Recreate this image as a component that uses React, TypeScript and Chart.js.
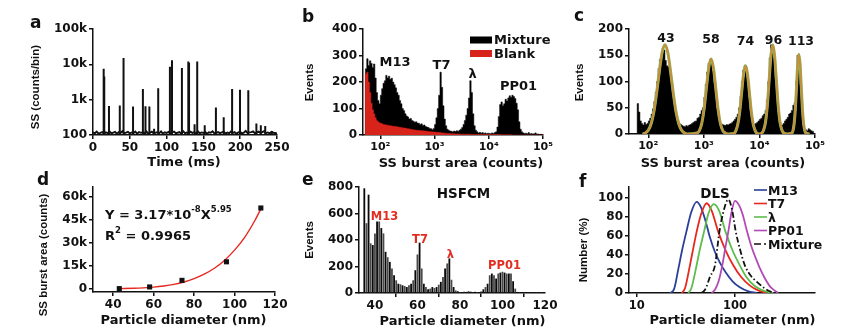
import React, { useEffect, useRef } from "react";
import { Chart, registerables } from "chart.js";

Chart.register(...registerables);

const FIG_W = 842;
const FIG_H = 332;
const INK = "#111";
const SANS = "'DejaVu Sans', 'Liberation Sans', sans-serif";
const NARROW = "'Liberation Sans', Arial, sans-serif";
const YW = 60;
const XH = 30;
Chart.defaults.font.family = SANS;

// ---------- Panel a: time trace ----------
const aBaseStepMs = 2.5;
const aBaseline = [
  118, 112, 125, 110, 115, 121, 108, 119, 113, 126,
  111, 117, 122, 109, 120, 114, 128, 112, 116, 123,
  110, 118, 113, 125, 109, 121, 115, 119, 112, 127,
  110, 117, 124, 111, 116, 120, 113, 126, 108, 119,
  114, 122, 110, 118, 125, 112, 116, 121, 109, 128,
  113, 117, 111, 124, 115, 120, 110, 126, 112, 118,
  114, 122, 109, 119, 116, 127, 111, 115, 121, 113,
  118, 124, 110, 117, 112, 125, 114, 120, 109, 118,
  123, 111, 116, 130, 113, 119, 121, 126, 112, 117,
  124, 115, 120, 128, 113, 118, 111, 122, 116, 114,
  110,
];
const aSpikeTimes = [14.5, 15.3, 21.7, 36.4, 41.5, 54.4, 67.8, 71.3, 76.6, 83.0, 88.6, 104.5, 107.3, 120.8, 129.5, 130.5, 138.0, 141.6, 151.8, 167.0, 177.6, 189.0, 199.7, 211.0, 222.0, 228.0, 234.0, 243.0];
const aSpikePeaks = [7500, 4500, 660, 680, 15000, 640, 2000, 650, 640, 150, 2100, 8500, 13000, 7900, 12000, 11000, 200, 12000, 190, 600, 320, 2000, 1900, 1850, 210, 190, 180, 130];
const aXTicks = [0, 50, 100, 150, 200, 250];
const aYTicks = [100, 1000, 10000, 100000];
const aYTickLabels = ["100", "1k", "10k", "100k"];

// ---------- Panel b: SS burst area histogram ----------
const bBinStartLog = 1.7;
const bBinStepLog = 0.025;
const bMixture = [
  0, 0, 250, 288, 262, 280, 270, 255, 268, 215,
  160, 130, 118, 150, 175, 195, 205, 225, 215, 222,
  210, 214, 200, 190, 178, 160, 150, 130, 118, 100,
  92, 80, 72, 68, 60, 62, 55, 52, 48, 50,
  45, 44, 40, 42, 36, 38, 32, 30, 28, 25,
  24, 20, 25, 40, 65, 100, 150, 237, 180, 110,
  60, 35, 22, 18, 15, 14, 12, 15, 13, 16,
  14, 18, 22, 28, 40, 55, 75, 100, 140, 205,
  160, 80, 35, 18, 12, 8, 10, 7, 9, 6,
  8, 5, 7, 6, 5, 8, 6, 9, 12, 30,
  70, 115, 125, 110, 118, 135, 128, 140, 148, 142,
  150, 145, 138, 120, 95, 50, 22, 12, 8, 6,
  7, 5, 9, 4, 6, 3, 5, 8, 3, 4,
  2, 3,
];
const bBlank = [
  0, 0, 230, 237, 200, 160, 120, 95, 80, 65,
  55, 50, 46, 44, 42, 40, 39, 38, 37, 36,
  35, 34, 33, 33, 32, 31, 30, 29, 28, 27,
  26, 26, 25, 24, 23, 22, 21, 20, 19, 18,
  18, 17, 17, 16, 16, 15, 15, 14, 13, 13,
  12, 12, 11, 11, 10, 10, 9, 9, 8, 8,
  7, 7, 6, 6, 6, 5, 5, 5, 4, 4,
  4, 4, 3, 3, 3, 3, 3, 3, 3, 3,
  2, 2, 2, 2, 2, 2, 2, 2, 2, 2,
  2, 2, 2, 2, 2, 2, 2, 2, 2, 2,
  2, 2, 1, 1, 1, 1, 1, 1, 1, 1,
  0, 0, 0, 0, 0, 0, 0, 0, 0, 0,
  0, 0, 0, 0, 0, 0, 0, 0, 0, 0,
  0, 0,
];
const logTicks = [100, 1000, 10000, 100000];
const logTickLabels = ["10²", "10³", "10⁴", "10⁵"];
const bYTicks = [0, 100, 200, 300, 400];

// ---------- Panel c: calibration beads ----------
const cBinStartLog = 1.65;
const cBinStepLog = 0.025;
const cEvents = [
  0, 0, 0, 0, 0, 0, 0, 58, 42, 25,
  20, 17, 22, 18, 20, 25, 30, 38, 48, 62,
  80, 100, 125, 142, 150, 163, 160, 140, 130, 128,
  118, 100, 82, 62, 45, 35, 25, 20, 18, 16,
  15, 14, 16, 15, 17, 18, 20, 22, 24, 25,
  30, 32, 38, 45, 50, 70, 95, 118, 135, 142,
  138, 120, 98, 75, 50, 35, 25, 20, 18, 17,
  16, 18, 17, 19, 20, 22, 25, 28, 32, 38,
  50, 72, 100, 122, 131, 128, 100, 70, 45, 28,
  20, 18, 20, 22, 25, 28, 30, 35, 38, 45,
  65, 100, 145, 170, 165, 145, 108, 70, 42, 25,
  18, 17, 20, 25, 28, 32, 38, 40, 45, 55,
  60, 100, 150, 140, 95, 45, 18, 10, 8, 6,
  10, 8, 6, 5,
];
const cFitLog = [
  1.9, 1.95, 2.0, 2.05, 2.1, 2.15, 2.2, 2.25, 2.3, 2.35, 2.4, 2.45, 2.5, 2.55, 2.6, 2.65, 2.7,
  2.875, 2.9175, 2.96, 3.0025, 3.045, 3.0875, 3.13, 3.1725, 3.215, 3.2575, 3.3, 3.3425, 3.385, 3.45,
  3.54, 3.575, 3.61, 3.645, 3.68, 3.715, 3.75, 3.785, 3.82, 3.855, 3.89, 3.925, 3.96, 4.0,
  4.045, 4.0775, 4.11, 4.1425, 4.175, 4.2075, 4.24, 4.2725, 4.305, 4.3375, 4.37, 4.4025, 4.435, 4.5,
  4.584, 4.605, 4.626, 4.647, 4.668, 4.689, 4.71, 4.731, 4.752, 4.773, 4.794, 4.815, 4.836, 4.9,
];
const cFitEvents = [
  0, 2, 7, 19, 42, 78, 120, 156, 170, 156, 120, 78, 42, 19, 7, 2, 0,
  2, 6, 19, 46, 87, 126, 143, 126, 87, 46, 19, 6, 2, 0,
  1, 6, 18, 42, 79, 115, 130, 115, 79, 42, 18, 6, 1, 0,
  2, 8, 23, 55, 103, 150, 170, 150, 103, 55, 23, 8, 2, 0,
  2, 7, 21, 49, 92, 134, 152, 134, 92, 49, 21, 7, 2, 0,
];
const cYTicks = [0, 50, 100, 150, 200];

// ---------- Panel d: power-law fit ----------
const dDiameter = [43, 58, 74, 96, 113];
const dArea = [200, 1300, 5600, 17700, 52800];
const dFitDiameter = [43, 50, 55, 60, 65, 70, 75, 80, 85, 90, 95, 100, 105, 110, 113];
const dFitArea = [170, 410, 720, 1200, 1940, 3000, 4540, 6700, 9600, 13500, 18600, 25300, 33700, 44500, 52200];
const dXTicks = [40, 60, 80, 100, 120];
const dYTicks = [0, 15000, 30000, 45000, 60000];
const dYTickLabels = ["0", "15k", "30k", "45k", "60k"];

// ---------- Panel e: HSFCM size distribution ----------
const eFirstDiameter = 35;
const eEvents = [
  790, 527, 742, 375, 362, 450, 540, 540, 490, 450,
  311, 270, 235, 185, 134, 96, 70, 66, 58, 53,
  45, 58, 70, 96, 172, 291, 380, 185, 70, 45,
  28, 33, 45, 38, 45, 63, 84, 120, 185, 223,
  261, 100, 45, 20, 13, 8, 6, 10, 8, 14,
  10, 7, 9, 8, 6, 12, 28, 45, 70, 134,
  147, 134, 109, 147, 154, 160, 154, 147, 147, 147,
  89, 33, 8, 6, 5, 6, 4, 5, 4, 5,
  4, 4, 3, 4, 3,
];
const eXTicks = [40, 60, 80, 100, 120];
const eYTicks = [0, 200, 400, 600, 800];

// ---------- Panel f: DLS ----------
const fM13D = [21.8, 24, 26.5, 29, 32, 36, 40.7, 45, 50, 55, 62, 70, 80, 95, 112, 135, 166];
const fM13N = [0, 4, 25, 45, 64, 85, 95.5, 90, 76, 60, 44, 32, 22, 12, 6, 2, 0];
const fT7D = [28.7, 31, 34.8, 37.5, 40.7, 45, 51.5, 58, 67.6, 80, 96, 115, 141, 170, 209];
const fT7N = [0, 5, 29, 46, 64, 82, 94, 86, 64, 45, 29, 17, 8, 3, 0];
const fLambdaD = [33.5, 36, 40.7, 44, 48.4, 54, 61, 69, 80.3, 95, 112, 130, 160, 200, 245];
const fLambdaN = [0, 5, 29, 46, 64, 84, 93, 86, 64, 44, 29, 17, 7, 2, 0];
const fPP01D = [58, 63, 68, 74.3, 80, 85.5, 92, 100, 110, 120, 131.5, 150, 165, 179, 200, 227, 250, 275];
const fPP01N = [0, 4, 12, 29, 48, 64, 84, 96.5, 92, 82, 66, 46, 35, 26, 16, 7, 3, 0];
const fMixD = [45.8, 50, 55.7, 62.6, 69.4, 75, 85.5, 93, 102, 113, 126, 145, 166, 200, 245];
const fMixN = [0, 4, 17, 29, 64, 82, 98, 88, 64, 45, 29, 18, 12, 5, 0];
const fXTicks = [10, 100];
const fYTicks = [0, 20, 40, 60, 80, 100];

const C_BLUE = "#2a3f98";
const C_RED = "#e6281f";
const C_GREEN = "#5dbd4c";
const C_MAGENTA = "#b24ab6";
const C_BLANK = "#d8231b";
const C_LABEL_RED = "#e32d22";

type Area = { l: number; t: number; r: number; b: number };

function baseOptions(area: Area, scales: any) {
  return {
    responsive: false,
    maintainAspectRatio: false,
    animation: false,
    events: [],
    layout: {
      padding: { left: area.l - YW, top: area.t, right: FIG_W - area.r, bottom: FIG_H - area.b - XH },
    },
    plugins: { legend: { display: false }, tooltip: { enabled: false }, title: { display: false } },
    scales,
  };
}

function axis(kind: "x" | "y", type: string, min: number, max: number, values: number[], labels: string[], size = 12) {
  return {
    type,
    min,
    max,
    position: kind === "x" ? "bottom" : "left",
    offset: false,
    afterFit: (s: any) => {
      if (kind === "x") s.height = XH;
      else s.width = YW;
    },
    afterBuildTicks: (s: any) => {
      s.ticks = values.map((v) => ({ value: v }));
    },
    grid: { display: true, drawOnChartArea: false, drawTicks: true, tickLength: 4, color: INK, lineWidth: 1.5 },
    border: { display: true, color: INK, width: 1.5 },
    ticks: {
      autoSkip: false,
      maxRotation: 0,
      minRotation: 0,
      padding: 2,
      color: INK,
      font: { family: SANS, weight: "bold", size },
      callback: (_v: any, i: number) => labels[i],
    },
  };
}

function histPoints(startLog: number, stepLog: number, counts: number[]) {
  const pts = counts.map((c, i) => ({ x: Math.pow(10, startLog + i * stepLog), y: c }));
  pts.push({ x: Math.pow(10, startLog + counts.length * stepLog), y: 0 });
  return pts;
}

function pairs(xs: number[], ys: number[]) {
  return xs.map((x, i) => ({ x, y: ys[i] }));
}

function cfgA() {
  const base = aBaseline.map((v, i) => ({ x: i * aBaseStepMs, y: v }));
  const spikes: any[] = [];
  aSpikeTimes.forEach((t, i) => {
    spikes.push({ x: t, y: 100 }, { x: t, y: aSpikePeaks[i] }, { x: t, y: null });
  });
  return {
    type: "line",
    data: {
      datasets: [
        { data: spikes, borderColor: INK, borderWidth: 2, pointRadius: 0, spanGaps: false, tension: 0 },
        { data: base, borderColor: INK, borderWidth: 1.9, pointRadius: 0, tension: 0 },
      ],
    },
    options: baseOptions({ l: 93, t: 29, r: 277, b: 135 }, {
      x: axis("x", "linear", 0, 250, aXTicks, aXTicks.map(String)),
      y: axis("y", "logarithmic", 100, 100000, aYTicks, aYTickLabels),
    }),
  };
}

function cfgB() {
  return {
    type: "line",
    data: {
      datasets: [
        { label: "Blank", data: histPoints(bBinStartLog, bBinStepLog, bBlank), stepped: "after", fill: "origin", backgroundColor: C_BLANK, borderColor: C_BLANK, borderWidth: 0.5, pointRadius: 0 },
        { label: "Mixture", data: histPoints(bBinStartLog, bBinStepLog, bMixture), stepped: "after", fill: "origin", backgroundColor: "#000", borderColor: "#000", borderWidth: 0.5, pointRadius: 0 },
      ],
    },
    options: baseOptions({ l: 363, t: 29, r: 543, b: 135 }, {
      x: axis("x", "logarithmic", 48, 100000, logTicks, logTickLabels, 11),
      y: axis("y", "linear", 0, 400, bYTicks, bYTicks.map(String)),
    }),
  };
}

function cfgC() {
  const fit = cFitLog.map((lg, i) => ({ x: Math.pow(10, lg), y: cFitEvents[i] }));
  return {
    type: "line",
    data: {
      datasets: [
        { data: fit, borderColor: "#c58f3a", borderWidth: 2.1, pointRadius: 0, cubicInterpolationMode: "monotone" },
        { data: fit, borderColor: "#86bf66", borderWidth: 3.0, pointRadius: 0, cubicInterpolationMode: "monotone" },
        { data: histPoints(cBinStartLog, cBinStepLog, cEvents), stepped: "after", fill: "origin", backgroundColor: "#000", borderColor: "#000", borderWidth: 0.5, pointRadius: 0 },
      ],
    },
    options: baseOptions({ l: 629, t: 29, r: 815, b: 134 }, {
      x: axis("x", "logarithmic", 45, 100000, logTicks, logTickLabels, 11),
      y: axis("y", "linear", 0, 200, cYTicks, cYTicks.map(String)),
    }),
  };
}

function cfgD() {
  return {
    type: "line",
    data: {
      datasets: [
        { data: pairs(dDiameter, dArea), showLine: false, pointStyle: "rect", pointRadius: 3.6, backgroundColor: INK, borderColor: INK, borderWidth: 0 },
        { data: pairs(dFitDiameter, dFitArea), borderColor: C_RED, borderWidth: 1.4, pointRadius: 0, cubicInterpolationMode: "monotone" },
      ],
    },
    options: baseOptions({ l: 93, t: 187, r: 275, b: 292 }, {
      x: axis("x", "linear", 30, 120, dXTicks, dXTicks.map(String)),
      y: axis("y", "linear", -2000, 66500, dYTicks, dYTickLabels),
    }),
  };
}

function cfgE() {
  return {
    type: "bar",
    data: {
      datasets: [
        {
          data: eEvents.map((v, i) => ({ x: eFirstDiameter + i, y: v })),
          backgroundColor: eEvents.map((_, i) => (i % 2 ? "#4a4a4a" : "#0a0a0a")),
          borderWidth: 0,
          barPercentage: 0.85,
          categoryPercentage: 1,
        },
      ],
    },
    options: baseOptions({ l: 359, t: 187, r: 545, b: 293 }, {
      x: axis("x", "linear", 32.5, 120, eXTicks, eXTicks.map(String)),
      y: axis("y", "linear", 0, 800, eYTicks, eYTicks.map(String)),
    }),
  };
}

function cfgF() {
  const line = (xs: number[], ys: number[], color: string, dash: number[] = []) => ({
    data: pairs(xs, ys),
    borderColor: color,
    borderWidth: 1.8,
    borderDash: dash,
    pointRadius: 0,
    cubicInterpolationMode: "monotone",
  });
  return {
    type: "line",
    data: {
      datasets: [
        line(fMixD, fMixN, INK, [6, 2.5, 1.5, 2.5]),
        line(fPP01D, fPP01N, C_MAGENTA),
        line(fLambdaD, fLambdaN, C_GREEN),
        line(fT7D, fT7N, C_RED),
        line(fM13D, fM13N, C_BLUE),
      ],
    },
    options: baseOptions({ l: 629, t: 187, r: 815, b: 293 }, {
      x: axis("x", "logarithmic", 8.35, 652, fXTicks, fXTicks.map(String), 11.5),
      y: axis("y", "linear", 0, 111, fYTicks, fYTicks.map(String)),
    }),
  };
}

const txt = { fontFamily: SANS, fontWeight: "bold" as const, fill: INK };

function Letter({ x, y, s }: { x: number; y: number; s: string }) {
  return <text x={x} y={y} {...txt} fontSize={17}>{s}</text>;
}
function YTitle({ x, y, s }: { x: number; y: number; s: string }) {
  return (
    <text transform={`translate(${x},${y}) rotate(-90)`} fontFamily={NARROW} fontWeight="bold" fill={INK} fontSize={11.5} textAnchor="middle" dominantBaseline="central">
      {s}
    </text>
  );
}
function Label({ x, y, s, size = 13, color = INK, anchor = "middle" }: { x: number; y: number; s: string; size?: number; color?: string; anchor?: string }) {
  return (
    <text x={x} y={y} {...txt} fill={color} fontSize={size} textAnchor={anchor as any} dominantBaseline="central">
      {s}
    </text>
  );
}

export default function App() {
  const r0 = useRef<HTMLCanvasElement>(null);
  const r1 = useRef<HTMLCanvasElement>(null);
  const r2 = useRef<HTMLCanvasElement>(null);
  const r3 = useRef<HTMLCanvasElement>(null);
  const r4 = useRef<HTMLCanvasElement>(null);
  const r5 = useRef<HTMLCanvasElement>(null);
  const refs = [r0, r1, r2, r3, r4, r5];

  useEffect(() => {
    const cfgs = [cfgA(), cfgB(), cfgC(), cfgD(), cfgE(), cfgF()];
    const charts = cfgs.map((cfg, i) => new Chart(refs[i].current as HTMLCanvasElement, cfg as any));
    return () => charts.forEach((c) => c.destroy());
  }, []);

  const legendF = [
    { s: "M13", c: C_BLUE, dash: "" },
    { s: "T7", c: C_RED, dash: "" },
    { s: "λ", c: C_GREEN, dash: "" },
    { s: "PP01", c: C_MAGENTA, dash: "" },
    { s: "Mixture", c: INK, dash: "7 3 2 3" },
  ];

  return (
    <div style={{ position: "fixed", left: 0, top: 0, width: FIG_W, height: FIG_H, background: "#fff", overflow: "hidden" }}>
      {refs.map((r, i) => (
        <canvas key={i} ref={r} width={FIG_W} height={FIG_H} style={{ position: "absolute", left: 0, top: 0, width: FIG_W, height: FIG_H }} />
      ))}
      <svg width={FIG_W} height={FIG_H} style={{ position: "absolute", left: 0, top: 0, pointerEvents: "none" }}>
        <Letter x={30} y={28} s="a" />
        <Letter x={302} y={22} s="b" />
        <Letter x={574} y={21} s="c" />
        <Letter x={37} y={185} s="d" />
        <Letter x={302} y={185} s="e" />
        <Letter x={579} y={187} s="f" />

        <YTitle x={35} y={87} s="SS (counts/bin)" />
        <YTitle x={309} y={82.5} s="Events" />
        <YTitle x={579} y={82.5} s="Events" />
        <YTitle x={42.5} y={255} s="SS burst area (counts)" />
        <YTitle x={309} y={240} s="Events" />
        <YTitle x={582.5} y={250} s="Number (%)" />

        <Label x={184} y={161.5} s="Time (ms)" />
        <Label x={461} y={162} s="SS burst area (counts)" />
        <Label x={723} y={162} s="SS burst area (counts)" />
        <Label x={183.5} y={319} s="Particle diameter (nm)" />
        <Label x={462.5} y={320} s="Particle diameter (nm)" />
        <Label x={732.5} y={319} s="Particle diameter (nm)" />

        {/* panel b annotations */}
        <Label x={395} y={61} s="M13" />
        <Label x={441.5} y={64} s="T7" />
        <Label x={472.5} y={73} s="λ" />
        <Label x={518.5} y={85} s="PP01" />
        <rect x={470} y={36.5} width={22} height={7} fill="#000" />
        <Label x={494} y={39.5} s="Mixture" anchor="start" />
        <rect x={470} y={50} width={22} height={7} fill={C_BLANK} />
        <Label x={494} y={53.5} s="Blank" anchor="start" />

        {/* panel c annotations */}
        <Label x={666} y={37} s="43" size={12.5} />
        <Label x={711} y={38} s="58" size={12.5} />
        <Label x={745.5} y={40} s="74" size={12.5} />
        <Label x={773.5} y={39} s="96" size={12.5} />
        <Label x={801} y={40} s="113" size={12.5} />

        {/* panel d annotations */}
        <text x={105} y={214} {...txt} fontSize={13} dominantBaseline="central">
          Y = 3.17*10<tspan dy={-5} fontSize={8.5}>-8</tspan>
          <tspan dy={5}>X</tspan>
          <tspan dy={-5} fontSize={8.5}>5.95</tspan>
        </text>
        <text x={105} y={235} {...txt} fontSize={13} dominantBaseline="central">
          R<tspan dy={-5} fontSize={8.5}>2</tspan>
          <tspan dy={5}> = 0.9965</tspan>
        </text>

        {/* panel e annotations */}
        <Label x={463.5} y={192.5} s="HSFCM" size={13.5} />
        <Label x={384.5} y={216} s="M13" size={11.5} color={C_LABEL_RED} />
        <Label x={420} y={239} s="T7" size={11.5} color={C_LABEL_RED} />
        <Label x={450.5} y={253.5} s="λ" size={11.5} color={C_LABEL_RED} />
        <Label x={504.5} y={264.5} s="PP01" size={11.5} color={C_LABEL_RED} />

        {/* panel f annotations */}
        <Label x={715} y={192.5} s="DLS" size={13.5} />
        {legendF.map((it, i) => (
          <g key={it.s}>
            <line x1={754} x2={767} y1={190 + i * 13.5} y2={190 + i * 13.5} stroke={it.c} strokeWidth={1.6} strokeDasharray={it.dash || undefined} />
            <Label x={768} y={190 + i * 13.5} s={it.s} size={12.5} anchor="start" />
          </g>
        ))}
      </svg>
    </div>
  );
}
